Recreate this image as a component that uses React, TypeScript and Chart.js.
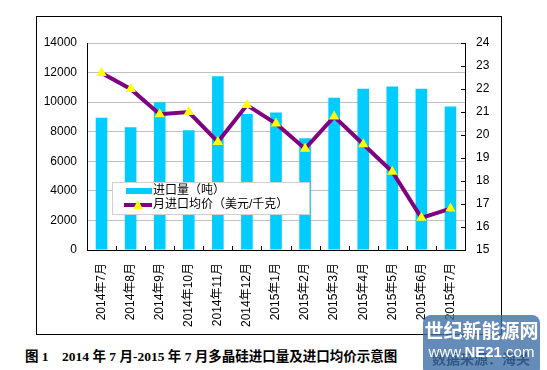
import React, { useEffect, useRef } from "react";
import { Chart, registerables } from "chart.js";

Chart.register(...registerables);

const categories = [
  "2014年7月", "2014年8月", "2014年9月", "2014年10月", "2014年11月", "2014年12月",
  "2015年1月", "2015年2月", "2015年3月", "2015年4月", "2015年5月", "2015年6月", "2015年7月",
];
const importVolume = [8950, 8300, 10000, 8100, 11750, 9200, 9300, 7550, 10300, 10900, 11050, 10900, 9700];
const avgPrice = [22.7, 22.0, 20.9, 21.0, 19.7, 21.3, 20.5, 19.4, 20.8, 19.6, 18.4, 16.4, 16.8];
const volumeLabel = "进口量（吨）";
const priceLabel = "月进口均价（美元/千克）";
const leftTickMin = 0;
const leftTickMax = 14000;
const leftTickStep = 2000;
const rightTickMin = 15;
const rightTickMax = 24;
const rightTickStep = 1;
const titleText = "图 1　2014 年 7 月-2015 年 7 月多晶硅进口量及进口均价示意图";
const sourceText = "数据来源：海关";

const BAR_COLOR = "#00CCFF";
const LINE_COLOR = "#800080";
const MARKER_COLOR = "#FFFF00";
const FONT = "'Liberation Sans', 'Noto Sans CJK SC', sans-serif";

const innerTicks = {
  id: "innerTicks",
  afterDatasetsDraw(chart: any) {
    const { ctx, chartArea, scales } = chart;
    ctx.save();
    ctx.strokeStyle = "#000";
    ctx.lineWidth = 1;
    const y1 = scales.y1;
    y1.ticks.forEach((_t: any, i: number) => {
      const y = Math.round(y1.getPixelForTick(i)) + 0.5;
      ctx.beginPath();
      ctx.moveTo(chartArea.right - 4, y);
      ctx.lineTo(chartArea.right, y);
      ctx.stroke();
    });
    const x = scales.x;
    for (let i = 1; i < categories.length; i++) {
      const px = Math.round(x.getPixelForValue(i - 0.5)) + 0.5;
      ctx.beginPath();
      ctx.moveTo(px, chartArea.bottom - 4);
      ctx.lineTo(px, chartArea.bottom);
      ctx.stroke();
    }
    ctx.restore();
  },
};

const boxLegend = {
  id: "boxLegend",
  afterDraw(chart: any) {
    const { ctx, chartArea } = chart;
    const left = chartArea.left + 25;
    const top = chartArea.top + 139;
    const w = 197;
    const h = 32;
    ctx.save();
    ctx.fillStyle = "#fff";
    ctx.fillRect(left, top, w, h);
    ctx.strokeStyle = "#d0d0d0";
    ctx.lineWidth = 1;
    ctx.strokeRect(left + 0.5, top + 0.5, w, h);
    const ds = chart.data.datasets;
    const r1 = top + 9;
    ctx.fillStyle = ds[0].backgroundColor;
    ctx.fillRect(left + 14, r1 - 3, 26, 6);
    ctx.fillStyle = "#000";
    ctx.font = "12px " + FONT;
    ctx.textBaseline = "middle";
    ctx.fillText(ds[0].label, left + 41, r1);
    const r2 = top + 23;
    ctx.strokeStyle = ds[1].borderColor;
    ctx.lineWidth = 4;
    ctx.beginPath();
    ctx.moveTo(left + 12, r2);
    ctx.lineTo(left + 40, r2);
    ctx.stroke();
    ctx.fillStyle = ds[1].pointBackgroundColor;
    ctx.beginPath();
    ctx.moveTo(left + 26, r2 - 5);
    ctx.lineTo(left + 31, r2 + 4);
    ctx.lineTo(left + 21, r2 + 4);
    ctx.closePath();
    ctx.fill();
    ctx.fillStyle = "#000";
    ctx.fillText(ds[1].label, left + 41, r2);
    ctx.restore();
  },
};

function ChartBox() {
  const ref = useRef<HTMLCanvasElement | null>(null);
  useEffect(() => {
    if (!ref.current) return;
    const chart = new Chart(ref.current, {
      type: "bar",
      data: {
        labels: categories,
        datasets: [
          {
            type: "bar",
            label: volumeLabel,
            data: importVolume,
            backgroundColor: BAR_COLOR,
            borderWidth: 0,
            yAxisID: "y",
            order: 2,
            categoryPercentage: 1,
            barPercentage: 0.4,
          } as any,
          {
            type: "line",
            label: priceLabel,
            data: avgPrice,
            borderColor: LINE_COLOR,
            borderWidth: 4,
            pointStyle: "triangle",
            pointRadius: 6,
            pointBackgroundColor: MARKER_COLOR,
            pointBorderColor: MARKER_COLOR,
            pointBorderWidth: 0,
            tension: 0,
            yAxisID: "y1",
            order: 1,
          } as any,
        ],
      },
      options: {
        animation: false,
        responsive: false,
        maintainAspectRatio: false,
        events: [],
        layout: { padding: { top: 26, left: 0, right: 0, bottom: 0 } },
        plugins: { legend: { display: false }, tooltip: { enabled: false } },
        scales: {
          x: {
            offset: true,
            grid: { display: true, drawOnChartArea: false, drawTicks: false },
            border: { display: true, color: "#000", width: 1 },
            ticks: {
              autoSkip: false,
              maxRotation: 90,
              minRotation: 90,
              padding: 13,
              color: "#000",
              font: { family: FONT, size: 12 },
            },
            afterFit(scale: any) {
              scale.height = 84;
            },
          },
          y: {
            position: "left",
            min: leftTickMin,
            max: leftTickMax,
            ticks: {
              stepSize: leftTickStep,
              padding: 10,
              color: "#000",
              font: { family: FONT, size: 12 },
              callback: (v: any) => String(v),
            },
            grid: { color: "#c0c0c0", drawTicks: false },
            border: { display: true, color: "#000", width: 1 },
            afterFit(scale: any) {
              scale.width = 50;
            },
          },
          y1: {
            position: "right",
            min: rightTickMin,
            max: rightTickMax,
            ticks: {
              stepSize: rightTickStep,
              padding: 11,
              color: "#000",
              font: { family: FONT, size: 12 },
              callback: (v: any) => String(v),
            },
            grid: { drawOnChartArea: false, drawTicks: false },
            border: { display: true, color: "#000", width: 1 },
            afterFit(scale: any) {
              scale.width = 36;
            },
          },
        },
      } as any,
      plugins: [innerTicks, boxLegend],
    });
    return () => chart.destroy();
  }, []);
  return <canvas ref={ref} width={464} height={317} style={{ display: "block", width: 464, height: 317 }} />;
}

export default function App() {
  return (
    <div style={{ position: "absolute", left: 0, top: 0, width: 547, height: 370, background: "#fff", overflow: "hidden" }}>
      <div
        style={{
          position: "absolute",
          left: 36,
          top: 16,
          width: 466,
          height: 319,
          border: "1px solid #000",
          boxSizing: "border-box",
        }}
      >
        <ChartBox />
      </div>
      <div
        style={{
          position: "absolute",
          left: 25,
          top: 345,
          whiteSpace: "nowrap",
          fontFamily: "'Liberation Serif', 'Noto Sans CJK SC', serif",
          fontWeight: "bold",
          fontSize: 13.5,
          color: "#000",
        }}
      >
        {titleText}
      </div>
      <div
        style={{
          position: "absolute",
          left: 432,
          top: 348,
          whiteSpace: "nowrap",
          fontFamily: "'Noto Sans CJK SC', sans-serif",
          fontWeight: "bold",
          fontSize: 14,
          color: "#000",
        }}
      >
        {sourceText}
      </div>
      <div
        style={{
          position: "absolute",
          left: 423,
          top: 315,
          width: 117,
          height: 62,
          borderRadius: 8,
          background: "rgba(62,110,168,0.8)",
          color: "#fff",
          textAlign: "center",
          fontFamily: "'Noto Sans CJK SC', sans-serif",
        }}
      >
        <div style={{ fontSize: 19, fontWeight: "bold", lineHeight: "24px", marginTop: 3 }}>世纪新能源网</div>
        <div style={{ fontSize: 15, lineHeight: "20px", fontFamily: "'Liberation Sans', sans-serif" }}>
          www.<b>NE21</b>.com
        </div>
      </div>
    </div>
  );
}
